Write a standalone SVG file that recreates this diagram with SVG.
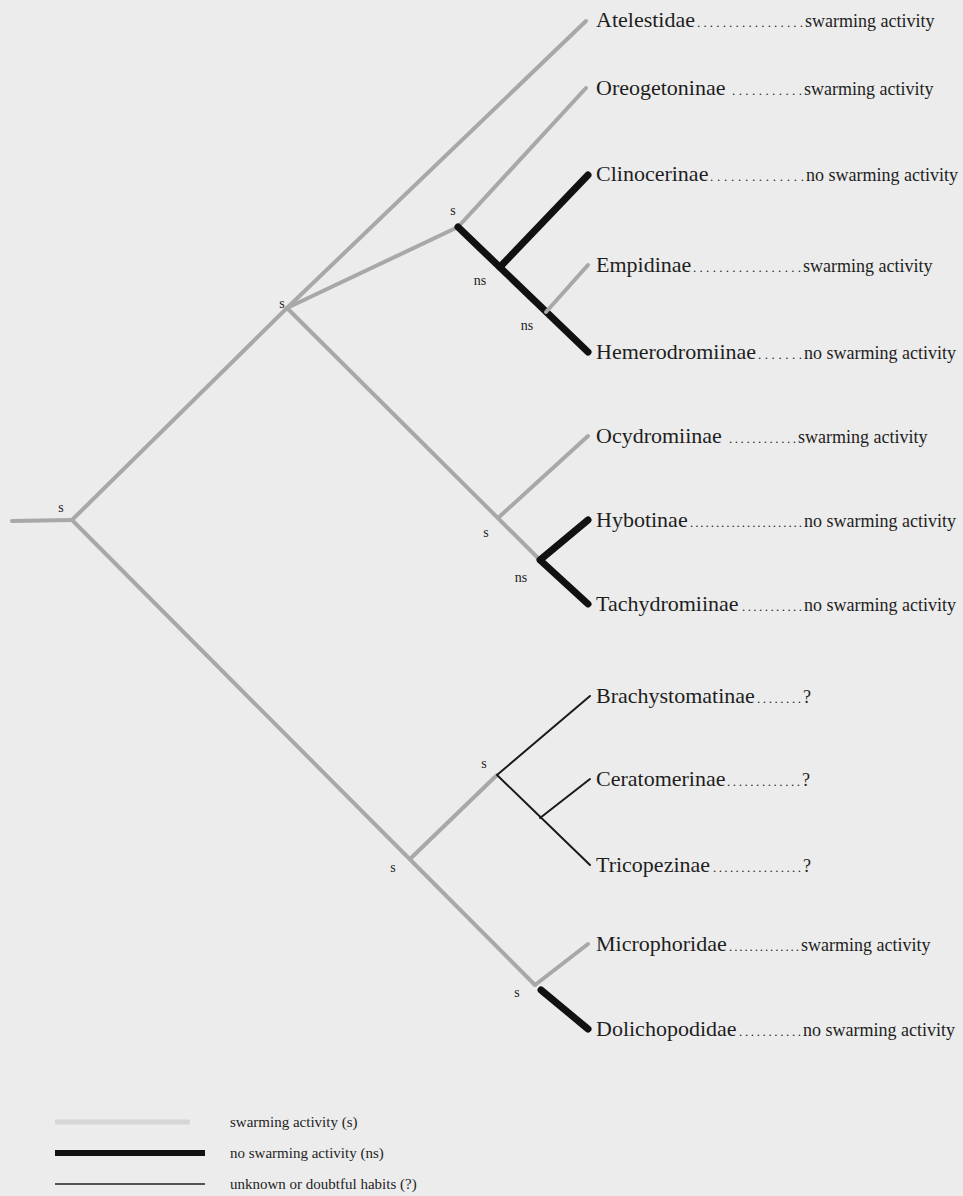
<svg xmlns="http://www.w3.org/2000/svg" width="963" height="1196" viewBox="0 0 963 1196">
<style>
.bg{fill:#ececec}
.g{stroke:#a8a8a8;stroke-width:4;fill:none;stroke-linecap:round;stroke-linejoin:round}
.b{stroke:#111;stroke-width:7;fill:none;stroke-linecap:round;stroke-linejoin:round}
.t{stroke:#1a1a1a;stroke-width:2;fill:none;stroke-linecap:round;stroke-linejoin:round}
.nm{font-family:"Liberation Serif","Times New Roman",serif;font-size:22px;fill:#1e1e1e}
.ds{font-family:"Liberation Serif","Times New Roman",serif;font-size:18px;fill:#1e1e1e}
.dt{font-family:"Liberation Serif","Times New Roman",serif;font-size:13px;fill:#1e1e1e}
.lb{font-family:"Liberation Serif","Times New Roman",serif;font-size:14px;fill:#1e1e1e;text-anchor:middle}
.lg{font-family:"Liberation Serif","Times New Roman",serif;font-size:15px;fill:#1e1e1e}
</style>
<rect class="bg" x="0" y="0" width="963" height="1196"/>
<g id="connectors">
<path class="g" d="M12,521 L72,520"/>
<path class="g" d="M72,520 L287,308"/>
<path class="g" d="M287,308 L586,21"/>
<path class="g" d="M287,308 L458,227 L586,88"/>
<path class="b" d="M458,227 L588,352"/>
<path class="b" d="M500,267 L588,175"/>
<path class="g" d="M546,312 L588,265"/>
<path class="g" d="M287,308 L540,560"/>
<path class="g" d="M498,518 L588,436"/>
<path class="b" d="M588,520 L540,560 L588,604"/>
<path class="g" d="M72,520 L535,985"/>
<path class="g" d="M410,859 L497,775"/>
<path class="t" d="M590,696 L497,775 L590,865"/>
<path class="t" d="M540,818 L590,779"/>
<path class="g" d="M535,985 L588,944"/>
<path class="b" d="M541,990 L588,1029"/>
</g>
<g id="state-labels">
<text class="lb" x="61" y="512">s</text>
<text class="lb" x="282" y="308">s</text>
<text class="lb" x="453" y="215">s</text>
<text class="lb" x="480" y="285">ns</text>
<text class="lb" x="527" y="330">ns</text>
<text class="lb" x="486" y="537">s</text>
<text class="lb" x="521" y="582">ns</text>
<text class="lb" x="393" y="872">s</text>
<text class="lb" x="484" y="768">s</text>
<text class="lb" x="517" y="997">s</text>
</g>
<g id="node-atelestidae">
<text class="nm" x="596" y="27">Atelestidae</text>
<text class="dt" x="697" y="27" textLength="106">.................</text>
<text class="ds" x="805" y="27">swarming activity</text>
</g>
<g id="node-oreogetoninae">
<text class="nm" x="596" y="95">Oreogetoninae</text>
<text class="dt" x="732" y="95" textLength="70">...........</text>
<text class="ds" x="804" y="95">swarming activity</text>
</g>
<g id="node-clinocerinae">
<text class="nm" x="596" y="181">Clinocerinae</text>
<text class="dt" x="710" y="181" textLength="94">..............</text>
<text class="ds" x="806" y="181">no swarming activity</text>
</g>
<g id="node-empidinae">
<text class="nm" x="596" y="272">Empidinae</text>
<text class="dt" x="693" y="272" textLength="108">.................</text>
<text class="ds" x="803" y="272">swarming activity</text>
</g>
<g id="node-hemerodromiinae">
<text class="nm" x="596" y="359">Hemerodromiinae</text>
<text class="dt" x="758" y="359" textLength="44">.......</text>
<text class="ds" x="804" y="359">no swarming activity</text>
</g>
<g id="node-ocydromiinae">
<text class="nm" x="596" y="443">Ocydromiinae</text>
<text class="dt" x="729" y="443" textLength="67">............</text>
<text class="ds" x="798" y="443">swarming activity</text>
</g>
<g id="node-hybotinae">
<text class="nm" x="596" y="527">Hybotinae</text>
<text class="dt" x="690" y="527" textLength="112">......................</text>
<text class="ds" x="804" y="527">no swarming activity</text>
</g>
<g id="node-tachydromiinae">
<text class="nm" x="596" y="611">Tachydromiinae</text>
<text class="dt" x="742" y="611" textLength="60">...........</text>
<text class="ds" x="804" y="611">no swarming activity</text>
</g>
<g id="node-brachystomatinae">
<text class="nm" x="596" y="703">Brachystomatinae</text>
<text class="dt" x="757" y="703" textLength="44">........</text>
<text class="ds" x="803" y="703">?</text>
</g>
<g id="node-ceratomerinae">
<text class="nm" x="596" y="786">Ceratomerinae</text>
<text class="dt" x="727" y="786" textLength="73">.............</text>
<text class="ds" x="802" y="786">?</text>
</g>
<g id="node-tricopezinae">
<text class="nm" x="596" y="872">Tricopezinae</text>
<text class="dt" x="713" y="872" textLength="88">................</text>
<text class="ds" x="803" y="872">?</text>
</g>
<g id="node-microphoridae">
<text class="nm" x="596" y="951">Microphoridae</text>
<text class="dt" x="729" y="951" textLength="70">..............</text>
<text class="ds" x="801" y="951">swarming activity</text>
</g>
<g id="node-dolichopodidae">
<text class="nm" x="596" y="1036">Dolichopodidae</text>
<text class="dt" x="739" y="1036" textLength="62">...........</text>
<text class="ds" x="803" y="1036">no swarming activity</text>
</g>
<g id="legend">
<line x1="55" y1="1122" x2="190" y2="1122" stroke="#d6d6d6" stroke-width="5"/>
<line x1="55" y1="1153" x2="205" y2="1153" stroke="#111" stroke-width="6"/>
<line x1="55" y1="1184" x2="205" y2="1184" stroke="#222" stroke-width="1.5"/>
<text class="lg" x="230" y="1127">swarming activity (s)</text>
<text class="lg" x="230" y="1158">no swarming activity (ns)</text>
<text class="lg" x="230" y="1189">unknown or doubtful habits (?)</text>
</g>
</svg>
